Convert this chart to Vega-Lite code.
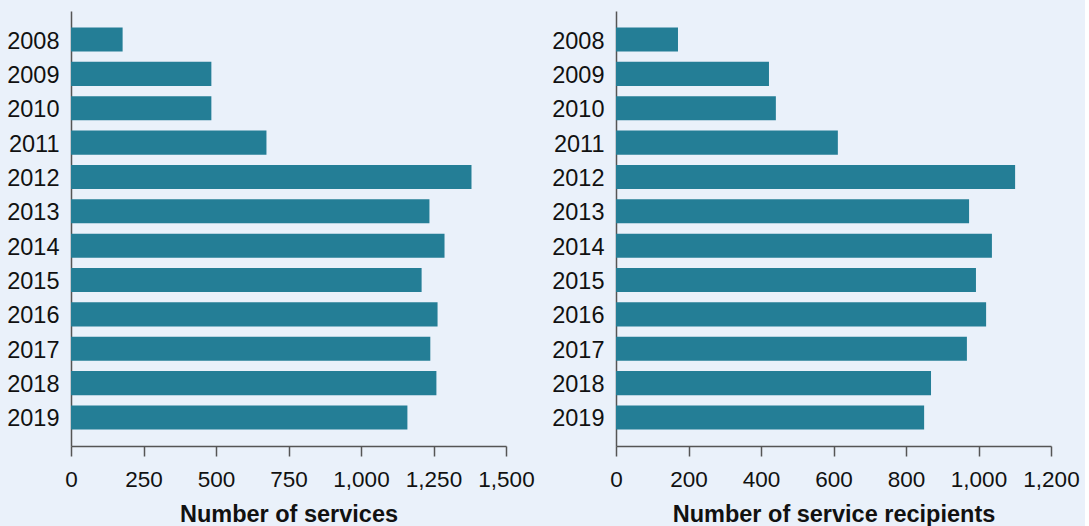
{
  "$schema": "https://vega.github.io/schema/vega-lite/v6.json",
  "background": "#EAF1FA",
  "padding": {"left": 6, "top": 11, "right": 5, "bottom": 0},
  "bounds": "flush",
  "spacing": 110,
  "data": {"values": [
    {"year": "2008", "services": 178, "recipients": 171},
    {"year": "2009", "services": 484, "recipients": 422},
    {"year": "2010", "services": 484, "recipients": 441},
    {"year": "2011", "services": 674, "recipients": 612},
    {"year": "2012", "services": 1381, "recipients": 1101},
    {"year": "2013", "services": 1236, "recipients": 974},
    {"year": "2014", "services": 1288, "recipients": 1037},
    {"year": "2015", "services": 1209, "recipients": 993},
    {"year": "2016", "services": 1264, "recipients": 1021},
    {"year": "2017", "services": 1239, "recipients": 968},
    {"year": "2018", "services": 1260, "recipients": 869},
    {"year": "2019", "services": 1160, "recipients": 850}
  ]},
  "config": {
    "view": {"stroke": null},
    "font": "Liberation Sans",
    "axis": {
      "domainColor": "#555555",
      "domainWidth": 1.5,
      "tickColor": "#555555",
      "tickWidth": 1.5,
      "grid": false,
      "labelFont": "Liberation Sans",
      "labelFontSize": 23.5,
      "labelColor": "#111111",
      "titleFont": "Liberation Sans",
      "titleFontSize": 23.5,
      "titleFontWeight": "bold",
      "titleColor": "#111111"
    },
    "axisX": {"tickSize": 10, "labelPadding": 12, "titlePadding": 12, "labelFlush": false, "labelFontSize": 22.5},
    "axisY": {"ticks": false, "labelPadding": 12, "labelOffset": 2, "title": null}
  },
  "hconcat": [
    {
      "width": 435,
      "height": 435,
      "mark": {"type": "bar", "color": "#247E96"},
      "encoding": {
        "y": {"field": "year", "type": "ordinal", "scale": {"paddingInner": 0.3, "paddingOuter": 0.48}, "axis": {"title": null}},
        "x": {"field": "services", "type": "quantitative", "scale": {"domain": [0, 1500], "nice": false}, "axis": {"values": [0, 250, 500, 750, 1000, 1250, 1500], "format": ",d", "title": "Number of services"}}
      }
    },
    {
      "width": 435,
      "height": 435,
      "mark": {"type": "bar", "color": "#247E96"},
      "encoding": {
        "y": {"field": "year", "type": "ordinal", "scale": {"paddingInner": 0.3, "paddingOuter": 0.48}, "axis": {"title": null}},
        "x": {"field": "recipients", "type": "quantitative", "scale": {"domain": [0, 1200], "nice": false}, "axis": {"values": [0, 200, 400, 600, 800, 1000, 1200], "format": ",d", "title": "Number of service recipients"}}
      }
    }
  ]
}
